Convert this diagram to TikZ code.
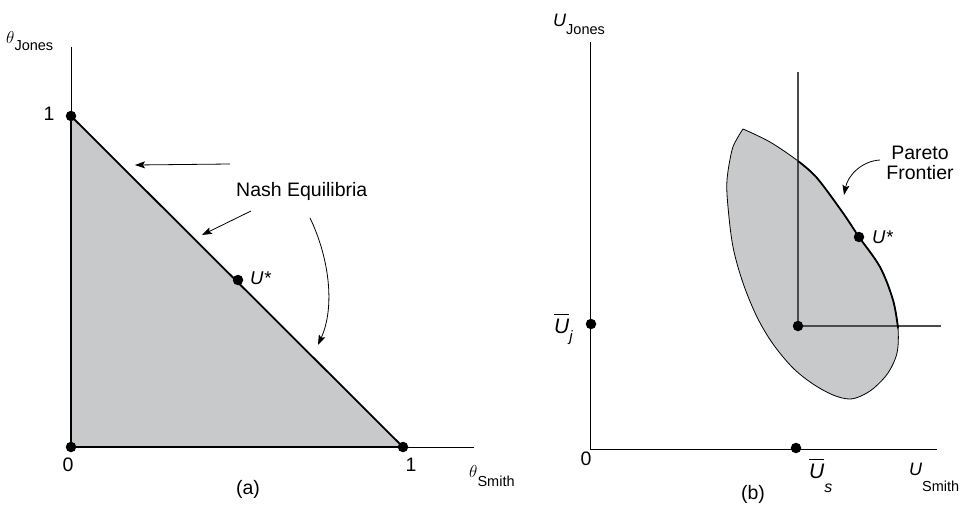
\documentclass[tikz,border=0pt]{standalone}
\usepackage{fontspec}
\setmainfont{Liberation Sans}
\usetikzlibrary{arrows.meta}
\definecolor{regiongray}{RGB}{200,201,203}
\definecolor{guidegray}{RGB}{75,75,75}
\newcommand{\ubarlabel}[1]{\vbox{\hrule height 0.9pt\kern 3.5pt\hbox{#1}}}
\begin{document}
\begin{tikzpicture}[x=1pt,y=-1pt,
  axis/.style={line width=0.9pt, black},
  border/.style={line width=1.8pt, black, line join=round},
  outline/.style={line width=0.8pt, black},
  guide/.style={line width=1.2pt, guidegray},
  dotmark/.style={circle, fill=black, inner sep=0pt, minimum size=10.5pt},
  pointer/.style={line width=0.8pt, -{Stealth[length=10pt,width=7pt,inset=2pt]}},
  lbl/.style={inner sep=0pt, font=\fontsize{19.5}{20}\selectfont},
]
\useasboundingbox (0,0) rectangle (963,506);

% ---------------- panel (a) ----------------
\coordinate (Ltop) at (71,47);
\coordinate (Lo) at (71,447);
\coordinate (Lxend) at (474,447);
\coordinate (LA) at (71,116);
\coordinate (LB) at (403,447);
\coordinate (LU) at (238,280);
\fill[regiongray] (LA) -- (Lo) -- (LB) -- cycle;
\draw[axis] (Ltop) -- (Lo) -- (Lxend);
\draw[border] (LA) -- (Lo) -- (LB) -- cycle;
\node[dotmark] (dLA) at (LA) {};
\node[dotmark] (dLo) at (Lo) {};
\node[dotmark] (dLB) at (LB) {};
\node[dotmark] (dLU) at (LU) {};

\node[lbl] (one1) at (49,114) {1};
\node[lbl] (zero1) at (68,465) {0};
\node[lbl] (one2) at (411,465) {1};
\node[lbl, anchor=base west] (thJ) at (6,43)
  {\fontsize{19}{19}\selectfont$\theta$\raisebox{-7.5pt}{\fontsize{14.5}{14.5}\selectfont Jones}};
\node[lbl, anchor=base west] (thS) at (469,477)
  {\fontsize{19}{19}\selectfont$\theta$\raisebox{-9.5pt}{\fontsize{14.5}{14.5}\selectfont Smith}};
\node[lbl, anchor=base west] (ustarA) at (250,284) {\fontsize{18.5}{18.5}\selectfont\itshape U*};
\node[lbl, anchor=base west] (nash) at (236,196) {Nash Equilibria};
\node[lbl, anchor=base] (capA) at (248,494) {(a)};

\coordinate (n1s) at (230,164);
\coordinate (n1e) at (135,165);
\coordinate (n2s) at (251,211);
\coordinate (n2e) at (202,235);
\coordinate (n3s) at (310,218);
\coordinate (n3e) at (318,345);
\draw[pointer] (n1s) -- (n1e);
\draw[pointer] (n2s) -- (n2e);
\draw[pointer] (n3s) .. controls (328,255) and (336,305) .. (n3e);

% ---------------- panel (b) ----------------
\coordinate (Rtop) at (590,42);
\coordinate (Ro) at (590,449);
\coordinate (Rxend) at (937,449);
\coordinate (Gtop) at (798,72);
\coordinate (Gc) at (798,326);
\coordinate (Gend) at (941,326);

\fill[regiongray] plot[smooth, tension=0.55] coordinates {
  (743,129) (770,142) (798,161) (817,178) (843,213) (859,237) (880,267)
  (893,300) (898,328) (897,353) (888,373) (874,388) (861,396) (849,399)
  (833,395) (813,384) (793,368) (773,344) (757,317) (743,283) (733,247)
  (728,207) (727,180) (732,150) (738,137) (743,129)} -- cycle;
\draw[outline] plot[smooth, tension=0.55] coordinates {
  (743,129) (770,142) (798,161) (817,178) (843,213) (859,237) (880,267)
  (893,300) (898,328) (897,353) (888,373) (874,388) (861,396) (849,399)
  (833,395) (813,384) (793,368) (773,344) (757,317) (743,283) (733,247)
  (728,207) (727,180) (732,150) (738,137) (743,129)} -- cycle;

\draw[axis] (Rtop) -- (Ro) -- (Rxend);
\draw[guide] (Gtop) -- (Gc) -- (Gend);
\draw[border, line cap=round] plot[smooth, tension=0.55] coordinates {
  (798,161) (817,178) (843,213) (859,237) (880,267) (893,300) (898,328)};

\node[dotmark] (dUj) at (591,324) {};
\node[dotmark] (dUs) at (796,448) {};
\node[dotmark] (dGc) at (Gc) {};
\node[dotmark] (dUstar) at (859,237) {};

\node[lbl, anchor=base west] (uJ) at (553,27)
  {\fontsize{18}{18}\selectfont\itshape U\raisebox{-8pt}{\fontsize{14.5}{14.5}\selectfont\upshape Jones}};
\node[lbl, anchor=base west] (uS) at (909,475)
  {\fontsize{18}{18}\selectfont\itshape U\raisebox{-16pt}{\fontsize{14.5}{14.5}\selectfont\upshape Smith}};
\node[lbl, anchor=base west] (ubj) at (554,333)
  {\fontsize{21}{21}\selectfont\itshape\ubarlabel{U}\raisebox{-8pt}{\fontsize{15}{15}\selectfont j}};
\node[lbl, anchor=base west] (ubs) at (809,478)
  {\fontsize{21}{21}\selectfont\itshape\ubarlabel{U}\raisebox{-14pt}{\fontsize{16}{16}\selectfont s}};
\node[lbl] (zero2) at (586,459) {0};
\node[lbl, anchor=base west] (ustarB) at (872,243) {\fontsize{18.5}{18.5}\selectfont\itshape U*};
\node[lbl, align=center, anchor=north] (pareto) at (920,146) {Pareto\\Frontier};
\node[lbl, anchor=base] (capB) at (753,499) {(b)};

\coordinate (pas) at (880,160);
\coordinate (pae) at (844,195);
\draw[pointer] (pas) .. controls (862,161) and (848,175) .. (pae);
\end{tikzpicture}
\end{document}
